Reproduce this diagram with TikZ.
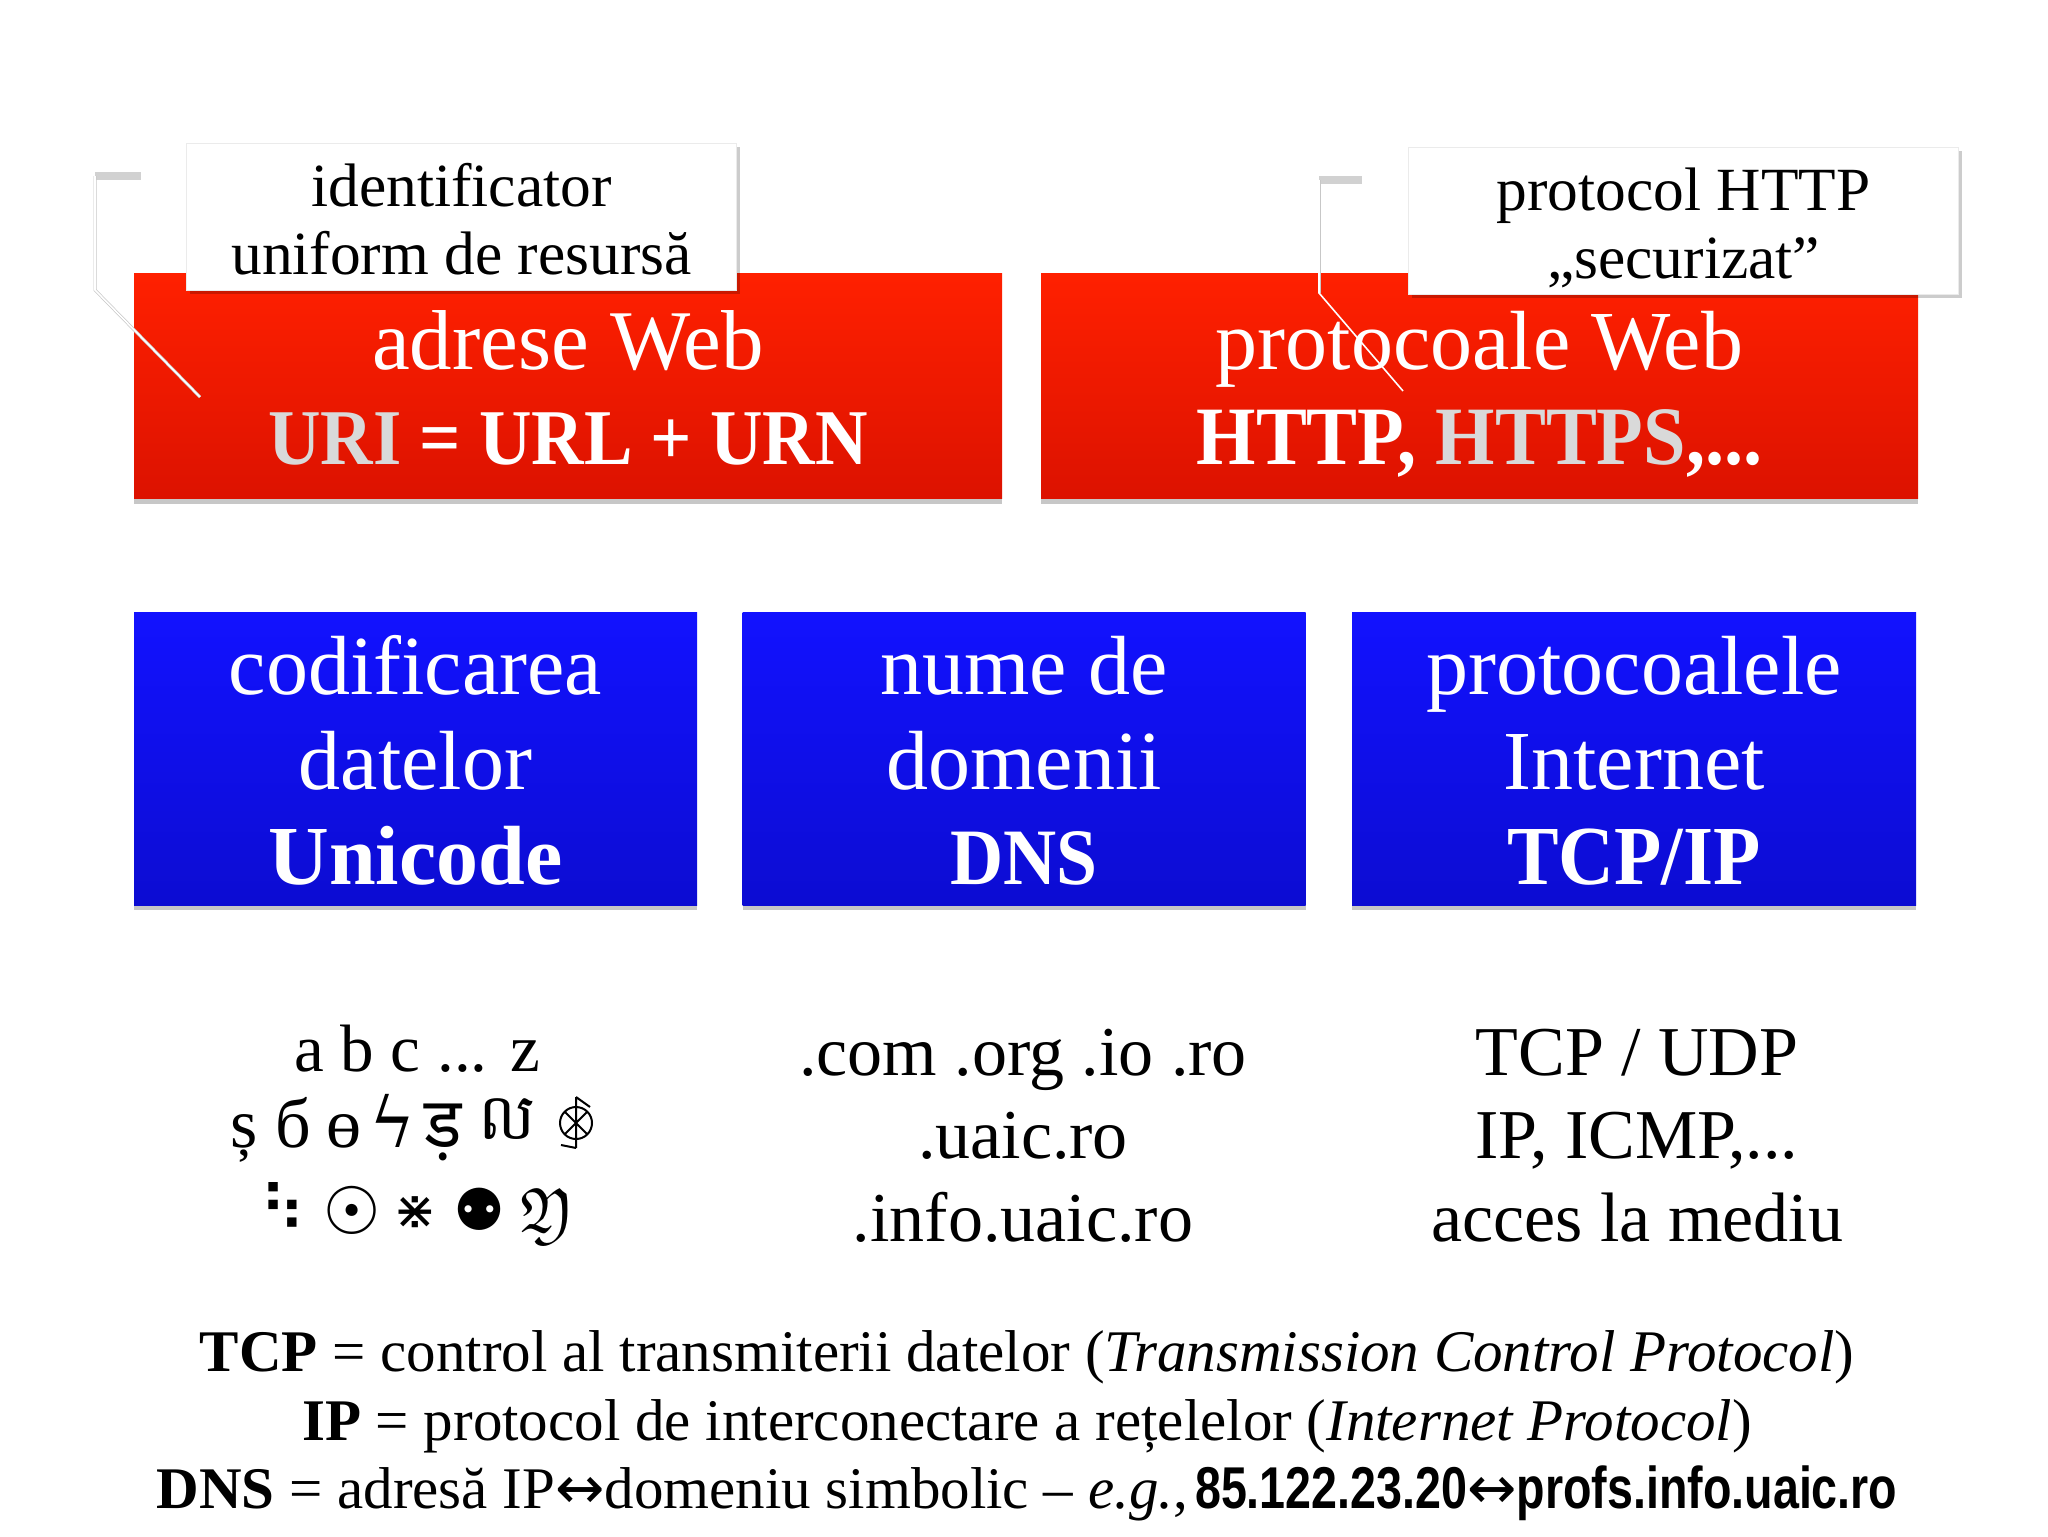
\documentclass[tikz,border=0pt]{standalone}
\usepackage{amssymb}
\usepackage{fontspec}
\usepackage{tikz}
\usetikzlibrary{shadows}
\setmainfont{Liberation Serif}
\newfontfamily\headbold[FakeStretch=.92]{Liberation Serif}
\newfontfamily\symfont{DejaVu Sans}
\newfontfamily\symserif{DejaVu Serif}
\newfontfamily\devafont[Script=Devanagari]{Noto Sans}
\newfontfamily\khmerfont[Script=Khmer]{Battambang}
\newfontfamily\narrowsans[FakeStretch=.79]{Liberation Sans}
\definecolor{redtop}{HTML}{FF2000}
\definecolor{redbot}{HTML}{DC1200}
\definecolor{bluetop}{HTML}{1212FF}
\definecolor{bluebot}{HTML}{0C0CD2}
\definecolor{dimtext}{HTML}{D9D9D9}
\newcommand{\fs}[2]{\fontsize{#1}{#2}\selectfont}
\newcommand{\toprow}{\rule{0pt}{41pt}}
\newcommand{\botrow}{\rule[-10.5pt]{0pt}{10.5pt}}
\newcommand{\noterow}{\rule{0pt}{30pt}}
\newcommand{\noteend}{\rule[-6.5pt]{0pt}{6.5pt}}
\newcommand{\arrowglyph}{{\symfont ↔}}
\tikzset{
	slidebox/.style={rectangle, inner sep=0pt, align=center, text=white, font=\fs{42}{47.5},
		drop shadow={shadow xshift=0pt, shadow yshift=-2.5pt, opacity=.22, fill=black}},
	redbox/.style={slidebox, top color=redtop, bottom color=redbot, minimum height=112.5pt},
	bluebox/.style={slidebox, top color=bluetop, bottom color=bluebot, minimum height=146.5pt},
	notebox/.style={rectangle, inner sep=0pt, align=center, fill=white, draw=black!8, line width=.5pt,
		font=\fs{30.7}{34}, minimum width=275pt, minimum height=73.5pt,
		drop shadow={shadow xshift=1.5pt, shadow yshift=-2pt, opacity=.2, fill=black}},
	listtext/.style={align=center, inner sep=0pt, font=\fs{35}{41.5}},
	glyph/.style={anchor=base, inner sep=0pt, font=\fs{35}{35}},
	symglyph/.style={anchor=center, inner sep=0pt},
	leadback/.style={draw=black!22, line width=1.5pt},
	leadline/.style={draw=white, line width=.8pt},
	leadbar/.style={draw=black!18, line width=4pt}
}
\begin{document}
\begin{tikzpicture}[x=.5pt, y=-.5pt]
	\useasboundingbox (0,0) rectangle (2048,1536);
	\node[redbox, minimum width=434pt] (adrese) at (568,386) {\toprow{\fs{42.5}{47.5}adrese Web}\\{\headbold\bfseries\fs{39.5}{47.5}\textcolor{dimtext}{URI} = URL + URN}\botrow};
	\node[redbox, minimum width=438.5pt] (protoweb) at (1479.5,386) {\toprow protocoale Web\\{\headbold\bfseries\fs{41.5}{47.5}HTTP, \textcolor{dimtext}{HTTPS},...}\botrow};
	\node[bluebox, minimum width=281.5pt] (cod) at (415.5,758.5) {\toprow codificarea\\datelor\\{\bfseries\fs{42}{47.5}Unicode}\botrow};
	\node[bluebox, minimum width=281.5pt] (dom) at (1024,758.5) {\toprow nume de\\domenii\\{\headbold\bfseries\fs{40}{47.5}DNS}\botrow};
	\node[bluebox, minimum width=282pt] (tcp) at (1634,758.5) {\toprow protocoalele\\Internet\\{\headbold\bfseries\fs{42}{47.5}TCP/IP}\botrow};
	\node[notebox] (uri) at (461.5,216.5) {\noterow identificator\\uniform de resursă\noteend};
	\node[notebox] (https) at (1683.5,220.5) {\noterow protocol HTTP\\„securizat”\noteend};
	\coordinate (urilead0) at (141,176);
	\coordinate (urilead1) at (95,176);
	\coordinate (urilead2) at (95,290);
	\coordinate (urilead3) at (200,397);
	\coordinate (httpslead0) at (1362,180);
	\coordinate (httpslead1) at (1319,180);
	\coordinate (httpslead2) at (1319,293);
	\coordinate (httpslead3) at (1403,391);
	\draw[leadbar] (urilead1) -- (urilead0);
	\draw[leadbar] (httpslead1) -- (httpslead0);
	\draw[leadback, xshift=-.8pt] (urilead1) -- (urilead2) -- (urilead3);
	\draw[leadback, xshift=-.8pt] (httpslead1) -- (httpslead2);
	\draw[leadline] (urilead1) -- (urilead2) -- (urilead3);
	\draw[leadline] (httpslead1) -- (httpslead2) -- (httpslead3);
	\node[glyph, font=\fs{33.5}{35}] (latin) at (417,1071) {a b c ... z};
	\node[glyph] (g1) at (244,1147) {ș};
	\node[glyph] (g2) at (293,1147) {б};
	\node[glyph] (g3) at (344,1147) {ө};
	\node[glyph, font=\symserif\fs{35}{35}] (g4) at (393,1147) {ϟ};
	\node[glyph, font=\devafont\fs{35}{35}] (g5) at (443,1147) {ड़};
	\node[glyph, font=\khmerfont\fs{32}{35}] (g6) at (507,1139) {ល};
	\draw[line width=1pt] (576,1123) circle (16) (576,1097) -- (576,1148) (576,1097) -- (590,1107) (576,1148) -- (561,1145) (565,1112) -- (587,1134) (587,1112) -- (565,1134);
	\node[symglyph, font=\symfont\fs{32}{32}] (s1) at (283,1207) {⠳};
	\node[symglyph, font=\symfont\bfseries\fs{33}{33}] (s2) at (352,1210) {☉};
	\node[symglyph, font=\symfont\fs{26}{26}] (s3) at (415,1213) {⋇};
	\node[symglyph, font=\symfont\fs{29}{29}] (s4) at (479,1209) {⚉};
	\node[symglyph, font=\fs{32}{32}] (s5) at (547,1216) {$\mathfrak{Y}$};
	\node[listtext] (tld) at (1023,1135.5) {.com .org .io .ro\\.uaic.ro\\.info.uaic.ro};
	\node[listtext] (stack) at (1637,1135.5) {TCP / UDP\\IP, ICMP,...\\acces la mediu};
	\node[align=center, inner sep=0pt, font=\fs{29.5}{34.2}] (legend) at (1027,1426) {{\bfseries TCP} = control al transmiterii datelor ({\itshape Transmission Control Protocol})\\{\bfseries IP} = protocol de interconectare a rețelelor ({\itshape Internet Protocol})\\{\bfseries DNS} = adresă IP\arrowglyph domeniu simbolic – {\itshape e.g.},\hspace{.12em}{\narrowsans\bfseries 85.122.23.20}\arrowglyph{\narrowsans\bfseries profs.info.uaic.ro}};
\end{tikzpicture}
\end{document}
